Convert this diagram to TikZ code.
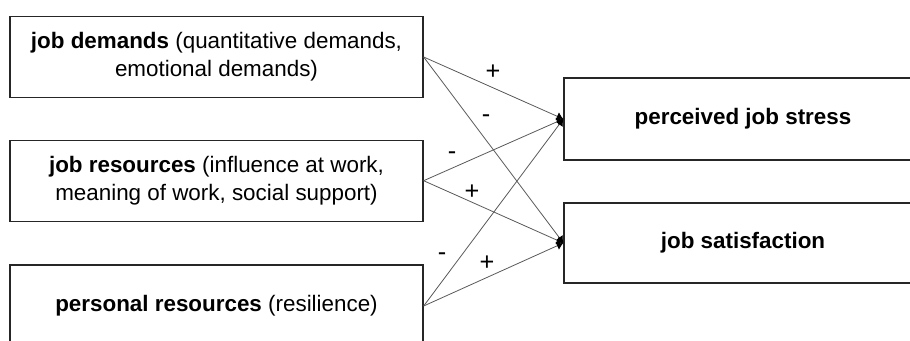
\documentclass[tikz,border=0pt]{standalone}
\usepackage{fontspec}
\setmainfont{Liberation Sans}
\usetikzlibrary{positioning, arrows.meta}

\begin{document}
\begin{tikzpicture}[ % GLOBAL CFG
    x=0.75pt, y=0.75pt,
    font=\fontsize{16.8}{21}\selectfont,
    >={Latex[length=5pt,width=6.5pt,color=black]},
    % Styles
    factor/.style={% For the predictor boxes
        rectangle,
        draw=black!85,
        line width=1pt,
        minimum width=309.75pt,
        minimum height=60.75pt,
        inner sep=0pt,
        align=center,
        },
    outcome/.style={% For the outcome boxes
        rectangle,
        draw=black!85,
        line width=1pt,
        minimum width=268.5pt,
        minimum height=61pt,
        inner sep=0pt,
        align=center,
        },
    path/.style={% Thin grey arrows
        ->,
        draw=black!65,
        line width=0.6pt,
        },
    sign/.style={% For + and -
        inner sep=0pt,
        font=\fontsize{19}{21}\selectfont,
        },
    ]

    \clip (0,0) rectangle (910,340);

    % Predictors
    \node [factor] (demands) at (216.5, 283) {\textbf{job demands} (quantitative demands,\\emotional demands)};
    \node [factor] (jobres) at (216.5, 159.3) {\textbf{job resources} (influence at work,\\meaning of work, social support)};
    \node [factor, minimum height=61.5pt] (persres) at (216.5, 34) {\textbf{personal resources} (resilience)};

    % Outcomes
    \node [outcome, minimum height=61.5pt] (stress) at (743, 221) {\textbf{perceived job stress}};
    \node [outcome, minimum height=60pt] (satisf) at (743, 97) {\textbf{job satisfaction}};

    % Paths
    \draw [path] (demands.east) -- (stress.west);
    \draw [path] (demands.east) -- (satisf.west);
    \draw [path] (jobres.east) -- (stress.west);
    \draw [path] (jobres.east) -- (satisf.west);
    \draw [path] (persres.east) -- (stress.west);
    \draw [path] (persres.east) -- (satisf.west);

    % Signs
    \node [sign] (s1) at (493, 268) {+};
    \node [sign] (s2) at (486, 221) {-};
    \node [sign] (s3) at (452, 184) {-};
    \node [sign] (s4) at (472, 148) {+};
    \node [sign] (s5) at (442, 83) {-};
    \node [sign] (s6) at (487, 77) {+};

\end{tikzpicture}
\end{document}
